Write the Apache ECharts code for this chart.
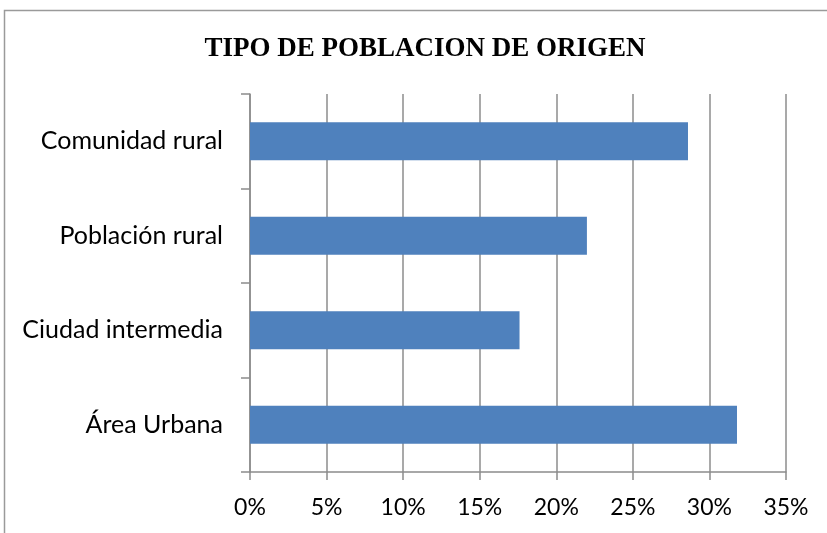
<!DOCTYPE html>
<html>
<head>
<meta charset="utf-8">
<script src="https://cdn.jsdelivr.net/npm/echarts@6/dist/echarts.min.js"></script>
<style>
  html, body { margin: 0; padding: 0; background: #fff; }
  #chart { width: 827px; height: 533px; }
</style>
</head>
<body>
<div id="chart"></div>
<script>
// categories top to bottom
var categories = ['Comunidad rural', 'Población rural', 'Ciudad intermedia', 'Área Urbana'];
var values = [28.6, 22.0, 17.6, 31.8]; // percent
var xTicks = { min: 0, max: 35, step: 5 };

var chart = echarts.init(document.getElementById('chart'));
var gray = '#8c8c8c';

chart.setOption({
  animation: false,
  graphic: [{
    type: 'rect',
    shape: { x: 4.5, y: 10.5, width: 900, height: 600 },
    style: { fill: 'none', stroke: '#9a9a9a', lineWidth: 1.5 }
  }],
  title: {
    text: 'TIPO DE POBLACION DE ORIGEN',
    left: 420,
    top: 31,
    textAlign: 'center',
    textStyle: { fontFamily: 'Liberation Serif', fontWeight: 'bold', fontSize: 27, color: '#000' }
  },
  grid: { left: 250, right: 41, top: 94, bottom: 61 },
  xAxis: {
    type: 'value',
    min: xTicks.min,
    max: xTicks.max,
    interval: xTicks.step,
    axisLine: { show: true, lineStyle: { color: gray, width: 1.5 } },
    axisTick: { show: true, length: 8, lineStyle: { color: gray, width: 1.5 } },
    axisLabel: {
      formatter: '{value}%',
      margin: 24,
      fontFamily: 'Lato',
      fontSize: 23,
      color: '#000'
    },
    splitLine: { show: true, lineStyle: { color: gray, width: 1.5 } }
  },
  yAxis: {
    type: 'category',
    inverse: true,
    data: categories,
    axisLine: { show: true, lineStyle: { color: gray, width: 1.5 } },
    axisTick: { show: true, length: 9, lineStyle: { color: gray, width: 1.5 } },
    axisLabel: {
      margin: 27,
      fontFamily: 'Lato',
      fontSize: 25,
      color: '#000'
    }
  },
  series: [{
    type: 'bar',
    data: values,
    barWidth: 38,
    itemStyle: { color: '#4F81BD' }
  }]
});
</script>
</body>
</html>
